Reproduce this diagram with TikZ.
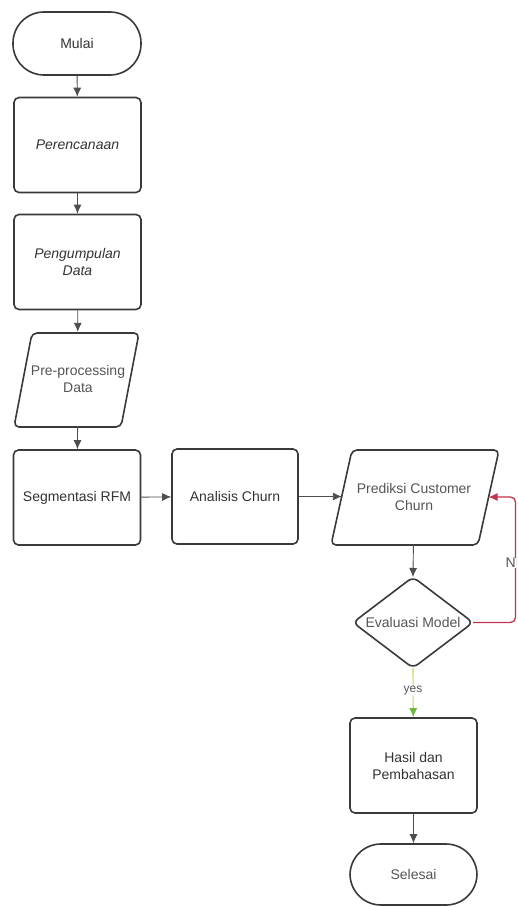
\documentclass[tikz,border=0pt]{standalone}
\usepackage{fontspec}
\setmainfont{Liberation Sans}
\usetikzlibrary{arrows.meta}
\definecolor{edge}{HTML}{3A3A3A}
\definecolor{txt}{HTML}{333333}
\definecolor{ltxt}{HTML}{555555}
\definecolor{loopred}{HTML}{C2334F}
\definecolor{yesline}{HTML}{C8DC5A}
\definecolor{yestip}{HTML}{6DBA3A}
\tikzset{
  box/.style={draw=edge, line width=1.6pt, rounded corners=5pt, minimum width=127pt, minimum height=95pt, inner sep=0pt, text=txt, align=center, font=\fontsize{14}{17}\selectfont},
  term/.style={draw=edge, line width=1.6pt, rounded corners=31pt, minimum width=128pt, minimum height=63pt, inner sep=0pt, text=txt, align=center, font=\fontsize{14}{17}\selectfont},
  shapeline/.style={draw=edge, line width=1.6pt, rounded corners=5pt},
  lbl/.style={inner sep=0pt, align=center, font=\fontsize{14}{17}\selectfont},
  conn/.style={draw=edge!90, line width=0.9pt, -{Latex[length=9pt,width=8pt]}},
}
\begin{document}
\begin{tikzpicture}[x=1pt,y=-1pt]
\useasboundingbox (0,0) rectangle (517,907);
\fill[white] (0,0) rectangle (517,907);

% left column
\node[term] (mulai) at (77,43.5) {Mulai};
\node[box] (renc) at (77.5,145) {\itshape Perencanaan};
\node[box] (kumpul) at (77.5,262) {\itshape Pengumpulan\\\itshape Data};
% pre-processing parallelogram
\draw[shapeline] (32,333) -- (139,333) -- (121,427) -- (14,427) -- cycle;
\node[lbl, text=ltxt, minimum width=125pt, minimum height=94pt] (prep) at (78,379) {Pre-processing\\Data};
\node[box] (segm) at (77,497.5) {Segmentasi RFM};
\node[box, minimum width=126pt] (anal) at (235,496.5) {Analisis Churn};

% prediksi parallelogram
\draw[shapeline] (352,450) -- (499,450) -- (478,545) -- (331,545) -- cycle;
\node[lbl, text=ltxt, minimum width=168pt, minimum height=95pt] (pred) at (414,497) {Prediksi Customer\\Churn};
\coordinate (predright) at (488.5,497);

% diamond
\draw[shapeline, rounded corners=6pt] (413,577) -- (473,622.5) -- (413,668) -- (353,622.5) -- cycle;
\node[lbl, text=ltxt, minimum width=120pt, minimum height=91pt] (eval) at (413,622.5) {Evaluasi Model};
\coordinate (evalright) at (473,622.5);
\coordinate (evalbottom) at (413,668);
\coordinate (loopa) at (515.5,622.5);
\coordinate (loopb) at (515.5,497);

\node[box] (hasil) at (413.5,765.5) {Hasil dan\\Pembahasan};
\node[term, text=ltxt, minimum width=127pt, minimum height=61pt] (selesai) at (413.5,874.5) {Selesai};

% connectors
\draw[conn] (mulai) -- (renc);
\draw[conn] (renc) -- (kumpul);
\draw[conn] (kumpul) -- (prep);
\draw[conn] (prep) -- (segm);
\draw[conn] (segm) -- (anal);
\draw[conn] (anal.east) -- (anal.east -| pred.west) -- ++(12,0);
\draw[conn] (pred) -- (413,577);
\draw[line width=1.3pt, draw=loopred, rounded corners=5pt, -{Latex[length=9pt,width=8pt]}] (evalright) -- (loopa) -- (loopb) -- (predright);
\node[lbl, text=ltxt, anchor=east, fill=white, inner sep=0.5pt] (nlab) at (516.5,563) {N};
\draw[line width=1.1pt, draw=yesline, -{Latex[length=9pt,width=8pt,fill=yestip,color=yestip]}] (evalbottom) -- (hasil);
\node[lbl, text=ltxt, fill=white, inner sep=1pt, font=\fontsize{12}{14}\selectfont] (yes) at (413,691) {yes};
\draw[conn] (hasil) -- (selesai);
\end{tikzpicture}
\end{document}
